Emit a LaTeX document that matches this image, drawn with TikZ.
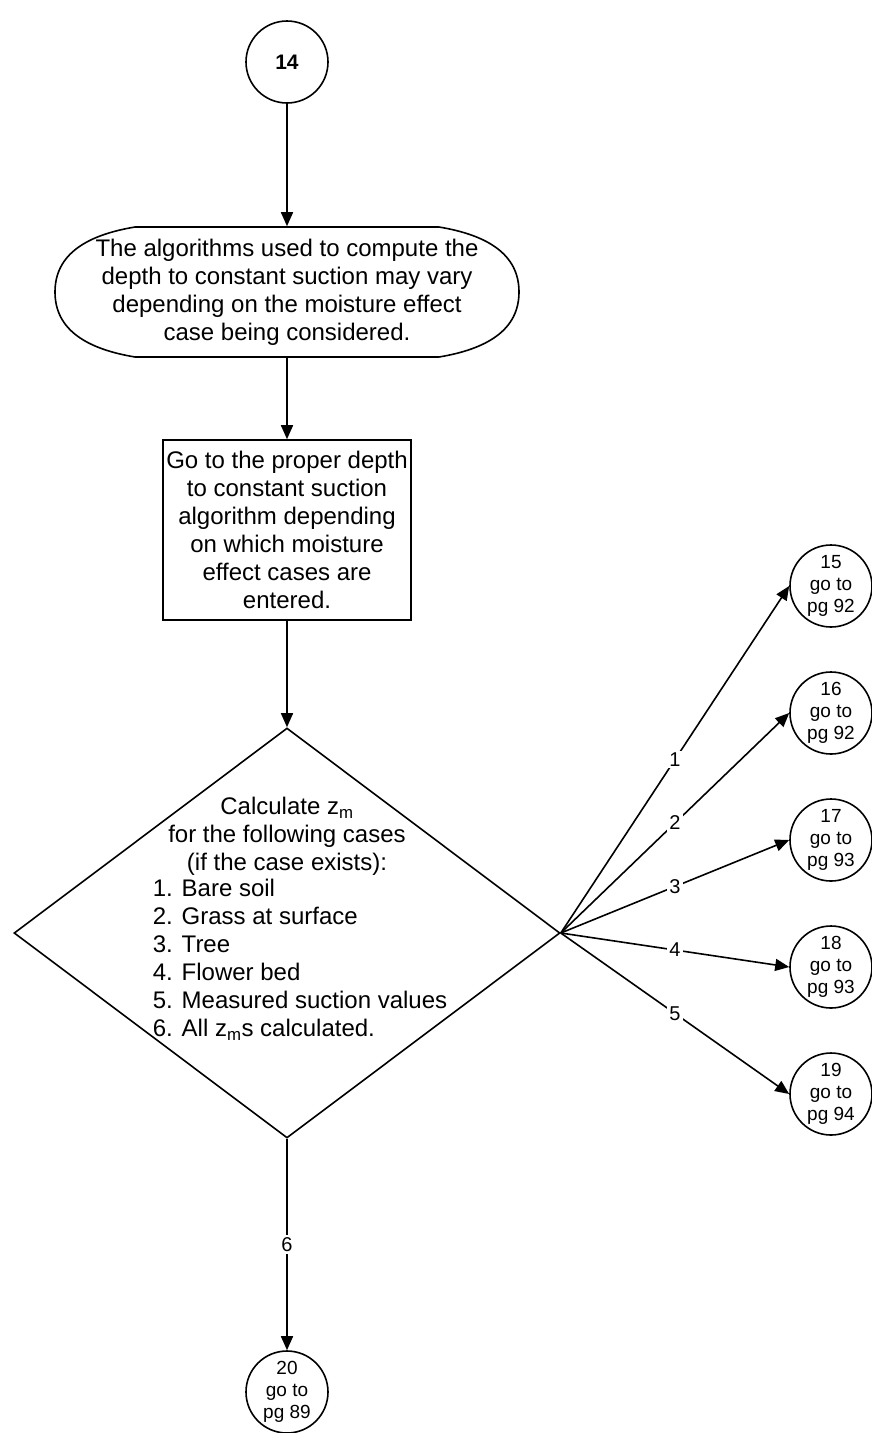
\documentclass[tikz,border=0pt]{standalone}
\usepackage{fontspec}
\setmainfont{Liberation Sans}
\usetikzlibrary{shapes.geometric,arrows.meta,positioning,calc}

\begin{document}
\begin{tikzpicture}[x=1pt, y=-1pt, line width=1.6pt,
  txt/.style={align=center, inner sep=0pt, font=\fontsize{24}{28}\selectfont},
  conn/.style={circle, draw, minimum size=82pt, inner sep=0pt, align=center,
    font=\fontsize{19}{22}\selectfont},
  procbox/.style={rectangle, draw, txt, minimum width=248pt, minimum height=180pt},
  decision/.style={diamond, draw, minimum width=546pt, minimum height=410pt, inner sep=0pt},
  arrow/.style={-{Triangle[length=14pt,width=12pt]}},
  lbl/.style={fill=white, inner sep=2pt, font=\fontsize{20}{22}\selectfont}]
  \useasboundingbox (0,0) rectangle (871,1433);

  % main column
  \node[conn, font=\fontsize{21}{24}\selectfont\bfseries] (c14) at (287,62) {14};
  \node[txt, minimum height=130pt] (algo) at (287,292)
    {The algorithms used to compute the\\depth to constant suction may vary\\
     depending on the moisture effect\\case being considered.};
  \draw ($(algo)+(-152,-65)$) -- ($(algo)+(152,-65)$)
    .. controls +(48,8) and +(0,-38) .. ($(algo)+(232,0)$)
    .. controls +(0,38) and +(48,-8) .. ($(algo)+(152,65)$)
    -- ($(algo)+(-152,65)$)
    .. controls +(-48,-8) and +(0,38) .. ($(algo)+(-232,0)$)
    .. controls +(0,-38) and +(-48,8) .. ($(algo)+(-152,-65)$) -- cycle;
  \node[procbox] (goto) at (287,530)
    {Go to the proper depth\\to constant suction\\algorithm depending\\
     on which moisture\\effect cases are\\entered.};
  \node[decision] (calc) at (287,933) {};
  \node[txt] (calctext) at (287,921)
    {Calculate z\textsubscript{m}\\for the following cases\\(if the case exists):\\
     \hspace*{26pt}\begin{tabular}{@{}l@{}}1. Bare soil\\2. Grass at surface\\3. Tree\\
     4. Flower bed\\5. Measured suction values\\6. All z\textsubscript{m}s calculated.\end{tabular}};

  % off-page connectors
  \node[conn] (c15) at (831,586) {15\\go to\\pg 92};
  \node[conn] (c16) at (831,713) {16\\go to\\pg 92};
  \node[conn] (c17) at (831,840) {17\\go to\\pg 93};
  \node[conn] (c18) at (831,967) {18\\go to\\pg 93};
  \node[conn] (c19) at (831,1094) {19\\go to\\pg 94};
  \node[conn] (c20) at (287,1392) {20\\go to\\pg 89};

  \draw[arrow] (c14) -- (algo);
  \draw[arrow] (algo) -- (goto);
  \draw[arrow] (goto) -- (calc);
  \draw[arrow] (calc.east) -- node[lbl] {1} (c15.west);
  \draw[arrow] (calc.east) -- node[lbl] {2} (c16.west);
  \draw[arrow] (calc.east) -- node[lbl] {3} (c17.west);
  \draw[arrow] (calc.east) -- node[lbl] {4} (c18.west);
  \draw[arrow] (calc.east) -- node[lbl] {5} (c19.west);
  \draw[arrow] (calc.south) -- node[lbl] {6} (c20);
\end{tikzpicture}
\end{document}
